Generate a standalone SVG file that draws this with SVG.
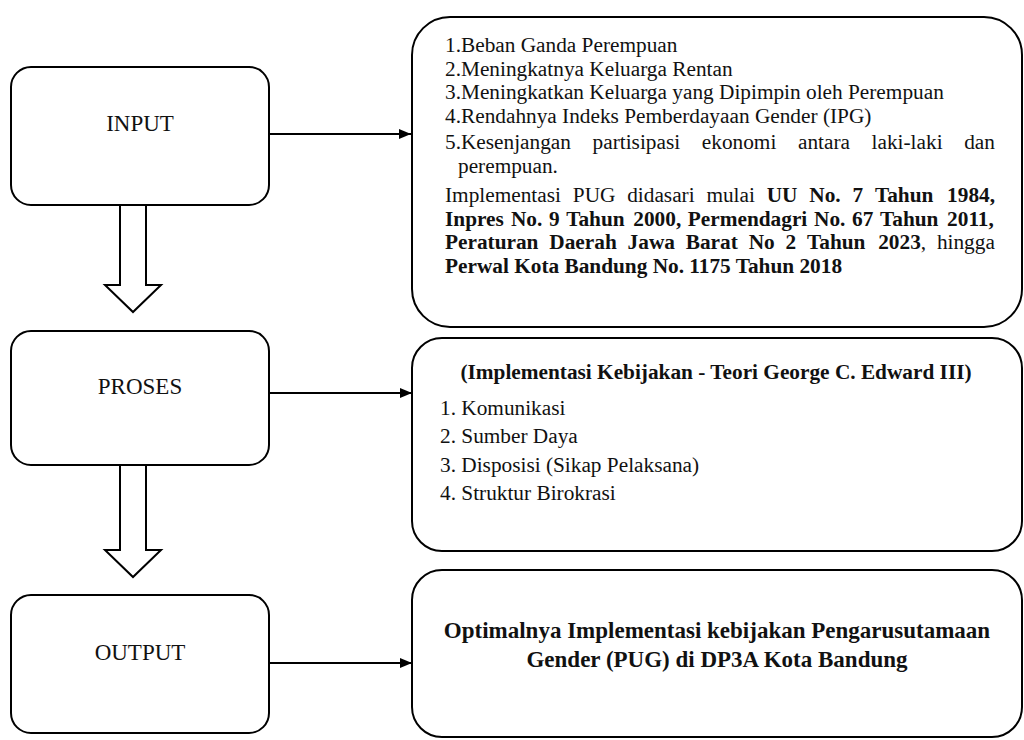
<svg xmlns="http://www.w3.org/2000/svg" width="1024" height="740" viewBox="0 0 1024 740">
<style>
.box{fill:#fff;stroke:#000;stroke-width:2}
.lbl{font-family:"Liberation Serif","Times New Roman",serif;font-size:23px;fill:#111;text-anchor:middle}
.t{font-family:"Liberation Serif","Times New Roman",serif;font-size:21.3px;fill:#111}
.b{font-weight:bold}
.out{font-family:"Liberation Serif","Times New Roman",serif;font-size:23px;font-weight:bold;fill:#111;text-anchor:middle}
.conn{fill:none;stroke:#000;stroke-width:2}
.blk{fill:#fff;stroke:#000;stroke-width:2;stroke-linejoin:miter}
</style>
<defs>
<marker id="ah" markerUnits="userSpaceOnUse" markerWidth="12" markerHeight="10" refX="12" refY="5" orient="auto">
<path d="M0,0 L12,5 L0,10 z" fill="#000"/>
</marker>
</defs>
<rect width="1024" height="740" fill="#fff"/>
<g id="connectors">
<line class="conn" x1="269" y1="134" x2="411" y2="134" marker-end="url(#ah)"/>
<line class="conn" x1="269" y1="393" x2="412" y2="393" marker-end="url(#ah)"/>
<line class="conn" x1="269" y1="663" x2="412" y2="663" marker-end="url(#ah)"/>
<polygon class="blk" points="120,205 120,285 105,285 133,312 161,285 146,285 146,205"/>
<polygon class="blk" points="120,465 120,550 105,550 133,577 161,550 146,550 146,465"/>
</g>
<g id="input">
<rect class="box" x="11" y="67" width="258" height="138" rx="20"/>
<text class="lbl" x="140" y="131">INPUT</text>
</g>
<g id="proses">
<rect class="box" x="11" y="331" width="258" height="134" rx="20"/>
<text class="lbl" x="140" y="394">PROSES</text>
</g>
<g id="output">
<rect class="box" x="11" y="595" width="258" height="138" rx="20"/>
<text class="lbl" x="140" y="660">OUTPUT</text>
</g>
<g id="input-detail">
<rect class="box" x="412" y="17" width="610" height="310" rx="38"/>
<text class="t" x="445" y="52">1.Beban Ganda Perempuan</text>
<text class="t" x="445" y="76">2.Meningkatnya Keluarga Rentan</text>
<text class="t" x="445" y="99">3.Meningkatkan Keluarga yang Dipimpin oleh Perempuan</text>
<text class="t" x="445" y="123">4.Rendahnya Indeks Pemberdayaan Gender (IPG)</text>
<text class="t" y="149"><tspan x="445">5.Kesenjangan</tspan><tspan x="592.6">partisipasi</tspan><tspan x="701.8">ekonomi</tspan><tspan x="798">antara</tspan><tspan x="871.6">laki-laki</tspan><tspan x="964.2">dan</tspan></text>
<text class="t" x="458" y="173">perempuan.</text>
<text class="t" y="202"><tspan x="445">Implementasi</tspan><tspan x="572.8">PUG</tspan><tspan x="627.2">didasari</tspan><tspan x="706.4">mulai</tspan><tspan class="b" x="766.7">UU</tspan><tspan class="b" x="809.3">No.</tspan><tspan class="b" x="852.5">7</tspan><tspan class="b" x="874.9">Tahun</tspan><tspan class="b" x="947.1">1984,</tspan></text>
<text class="t b" y="226"><tspan x="445">Inpres</tspan><tspan x="510.9">No.</tspan><tspan x="548.9">9</tspan><tspan x="566.2">Tahun</tspan><tspan x="633.3">2000,</tspan><tspan x="687.8">Permendagri</tspan><tspan x="814">No.</tspan><tspan x="852.1">67</tspan><tspan x="880">Tahun</tspan><tspan x="947.1">2011,</tspan></text>
<text class="t" y="249"><tspan class="b" x="445">Peraturan</tspan><tspan class="b" x="549.3">Daerah</tspan><tspan class="b" x="627.6">Jawa</tspan><tspan class="b" x="685.7">Barat</tspan><tspan class="b" x="748.7">No</tspan><tspan class="b" x="785.5">2</tspan><tspan class="b" x="807">Tahun</tspan><tspan class="b" x="878.2">2023</tspan><tspan>,</tspan><tspan x="936.9">hingga</tspan></text>
<text class="t b" x="445" y="273">Perwal Kota Bandung No. 1175 Tahun 2018</text>
</g>
<g id="proses-detail">
<rect class="box" x="412" y="338" width="610" height="213" rx="30"/>
<text class="t b" x="716" y="379" text-anchor="middle">(Implementasi Kebijakan - Teori George C. Edward III)</text>
<text class="t" x="440" y="415">1. Komunikasi</text>
<text class="t" x="440" y="443">2. Sumber Daya</text>
<text class="t" x="440" y="471.5">3. Disposisi (Sikap Pelaksana)</text>
<text class="t" x="440" y="500">4. Struktur Birokrasi</text>
</g>
<g id="output-detail">
<rect class="box" x="412" y="570" width="610" height="167" rx="30"/>
<text class="out" x="717" y="638">Optimalnya Implementasi kebijakan Pengarusutamaan</text>
<text class="out" x="717" y="667">Gender (PUG) di DP3A Kota Bandung</text>
</g>
</svg>
